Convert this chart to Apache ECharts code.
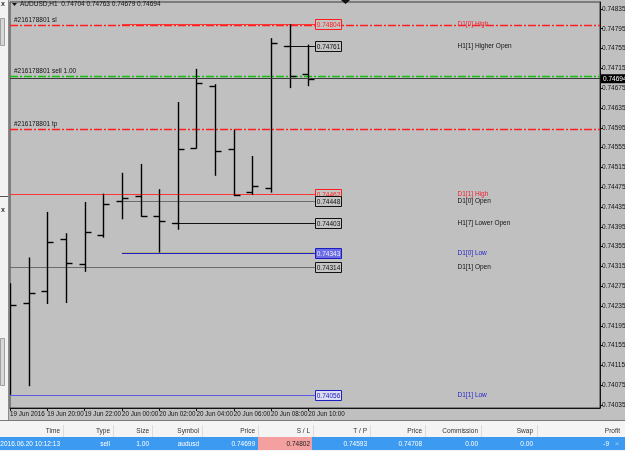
<!DOCTYPE html>
<html>
<head>
<meta charset="utf-8">
<script src="https://cdn.jsdelivr.net/npm/echarts@6/dist/echarts.min.js"></script>
<style>
  html, body { margin: 0; padding: 0; background: #c0c0c0; }
  #chart { width: 625px; height: 451px; }
</style>
</head>
<body>
<div id="chart"></div>
<script>
// AUDUSD H1 bars
const barTimes = [
  '19 Jun 18:00', '19 Jun 19:00', '19 Jun 20:00', '19 Jun 21:00', '19 Jun 22:00', '19 Jun 23:00',
  '20 Jun 00:00', '20 Jun 01:00', '20 Jun 02:00', '20 Jun 03:00', '20 Jun 04:00', '20 Jun 05:00',
  '20 Jun 06:00', '20 Jun 07:00', '20 Jun 08:00', '20 Jun 09:00', '20 Jun 10:00'
];
const opens  = [0.74255, 0.74241, 0.74265, 0.74370, 0.74320, 0.74378, 0.74448, 0.74457, 0.74416, 0.74403, 0.74555, 0.74679, 0.74552, 0.74465, 0.74474, 0.74761, 0.74704];
const highs  = [0.74281, 0.74333, 0.74425, 0.74382, 0.74445, 0.74462, 0.74504, 0.74522, 0.74471, 0.74647, 0.74714, 0.74683, 0.74591, 0.74538, 0.74776, 0.74804, 0.74763];
const lows   = [0.74056, 0.74073, 0.74239, 0.74241, 0.74304, 0.74373, 0.74410, 0.74415, 0.74343, 0.74389, 0.74553, 0.74498, 0.74457, 0.74459, 0.74464, 0.74675, 0.74679];
const closes = [0.74237, 0.74262, 0.74364, 0.74322, 0.74385, 0.74442, 0.74453, 0.74416, 0.74407, 0.74552, 0.74685, 0.74548, 0.74460, 0.74477, 0.74766, 0.74699, 0.74694];

const yTicks = ['0.74035', '0.74075', '0.74115', '0.74155', '0.74195', '0.74235', '0.74275', '0.74315', '0.74355',
  '0.74395', '0.74435', '0.74475', '0.74515', '0.74555', '0.74595', '0.74635', '0.74675', '0.74715', '0.74755', '0.74795', '0.74835'];
const xTickIdx = [0, 2, 4, 6, 8, 10, 12, 14, 16];

// indicator levels
const levelNames  = ['D1[0] High', 'H1[1] Higher Open', 'D1[1] High', 'D1[0] Open', 'H1[7] Lower Open', 'D1[0] Low', 'D1[1] Open', 'D1[1] Low'];
const levelPrices = [0.74804, 0.74761, 0.74462, 0.74448, 0.74403, 0.74343, 0.74314, 0.74056];
const levelStart  = [6, 15, 0, 6, 9, 6, 0, 0];

// open order
const orderNames  = ['#216178801 sl', '#216178801 sell 1.00', '#216178801 tp'];
const orderPrices = [0.74802, 0.74699, 0.74593];
const bidPrice = 0.74694;

const tableHeaders = ['Time', 'Type', 'Size', 'Symbol', 'Price', 'S / L', 'T / P', 'Price', 'Commission', 'Swap', 'Profit'];
const tableRow = ['2016.06.20 10:12:13', 'sell', '1.00', 'audusd', '0.74699', '0.74802', '0.74593', '0.74708', '0.00', '0.00', '-9'];

const FONT = 'Liberation Sans';
const yMin = 0.74029, yMax = 0.74849;
const xMax = 31.64;
const boxIdx = 16.35, textIdx = 24;

const levelStyle = (name) => {
  const kind = name.split(' ').pop();
  const tf = name.slice(0, 5);
  if (kind === 'High') return { line: '#ff3434', box: '#c4c4c4', boxStroke: '#ff1c1c', boxText: '#ff1c1c', text: '#f02030' };
  if (kind === 'Low' && tf === 'D1[0]') return { line: '#1c1cd0', box: '#6c6ce4', boxStroke: '#1c1cc0', boxText: '#eeeeff', text: '#2525c8', extra: '#b8b870' };
  if (kind === 'Low') return { line: '#5a5ae0', box: '#dcdcf2', boxStroke: '#2020c0', boxText: '#2020c0', text: '#2525c8' };
  if (name.indexOf('D1') === 0) return { line: '#6c6c6c', box: '#c4c4c4', boxStroke: '#111', boxText: '#111', text: '#111' };
  return { line: '#111', box: '#c4c4c4', boxStroke: '#111', boxText: '#111', text: '#111' };
};
const orderColor = name => (name.indexOf('sell') >= 0 ? '#10c010' : '#ff2020');

const chart = echarts.init(document.getElementById('chart'));

const barData = barTimes.map((t, i) => [i, opens[i], highs[i], lows[i], closes[i]]);
const levelData = levelPrices.map((p, i) => [levelStart[i], p, i]);
const orderData = orderPrices.map((p, i) => [0, p, i]);
const last = barData.length - 1;

const crisp = v => Math.round(v) + 0.5;

const colX = [60, 110, 149, 199, 255, 310, 367, 422, 478, 533, 620];
const graphics = [];
// left side panel
graphics.push({ type: 'rect', left: 0, top: 0, shape: { width: 8, height: 420 }, style: { fill: '#f2f2f2' }, z: 10 });
graphics.push({ type: 'line', shape: { x1: 8.5, y1: 0, x2: 8.5, y2: 420 }, style: { stroke: '#8a8a8a' }, z: 10 });
graphics.push({ type: 'text', left: 1, top: 1, style: { text: 'x', font: 'bold 7px ' + FONT, fill: '#333' }, z: 11 });
graphics.push({ type: 'rect', left: 0, top: 18, shape: { width: 4, height: 27 }, style: { fill: '#d8d8d8', stroke: '#a0a0a0' }, z: 11 });
graphics.push({ type: 'rect', left: 0, top: 338, shape: { width: 4, height: 47 }, style: { fill: '#d8d8d8', stroke: '#a0a0a0' }, z: 11 });
graphics.push({ type: 'line', shape: { x1: 0, y1: 196.5, x2: 8, y2: 196.5 }, style: { stroke: '#555' }, z: 11 });
graphics.push({ type: 'text', left: 1, top: 207, style: { text: 'x', font: 'bold 7px ' + FONT, fill: '#333' }, z: 11 });
// title
graphics.push({ type: 'polygon', shape: { points: [[12, 3], [17, 3], [14.5, 6]] }, style: { fill: '#111' }, z: 11 });
graphics.push({ type: 'text', left: 20, top: 1, style: {
  text: 'AUDUSD,H1  ' + [opens[last], highs[last], lows[last], closes[last]].map(v => v.toFixed(5)).join(' '),
  font: '6.5px ' + FONT, fill: '#111' }, z: 11 });
// chart shift marker
graphics.push({ type: 'polygon', shape: { points: [[341, 0], [350, 0], [345.5, 4]] }, style: { fill: '#111' }, z: 11 });
// terminal table
graphics.push({ type: 'rect', left: 0, top: 420, shape: { width: 625, height: 31 }, style: { fill: '#f4f4f4' }, z: 10 });
graphics.push({ type: 'line', shape: { x1: 0, y1: 420.5, x2: 625, y2: 420.5 }, style: { stroke: '#7a7a7a' }, z: 11 });
graphics.push({ type: 'rect', left: 0, top: 437, shape: { width: 625, height: 13 }, style: { fill: '#3c9af0' }, z: 11 });
graphics.push({ type: 'rect', left: 258, top: 437, shape: { width: 54, height: 13 }, style: { fill: '#f5a0a0' }, z: 12 });
[63, 113, 152, 202, 258, 313, 370, 425, 481, 537].forEach(x => {
  graphics.push({ type: 'line', shape: { x1: x + 0.5, y1: 425, x2: x + 0.5, y2: 437 }, style: { stroke: '#dcdcdc' }, z: 11 });
});
tableHeaders.forEach((h, i) => {
  graphics.push({ type: 'text', x: colX[i], y: 431, style: { text: h, font: '6.5px ' + FONT, fill: '#333', align: 'right', verticalAlign: 'middle' }, z: 13 });
});
tableRow.forEach((v, i) => {
  const xr = i === tableRow.length - 1 ? 609 : colX[i];
  graphics.push({ type: 'text', x: xr, y: 444, style: { text: v, font: '6.5px ' + FONT, fill: i === 5 ? '#222' : '#fff', align: 'right', verticalAlign: 'middle' }, z: 13 });
});
graphics.push({ type: 'text', x: 617, y: 444, style: { text: '×', font: '8px ' + FONT, fill: '#9ec8f4', align: 'center', verticalAlign: 'middle' }, z: 13 });

const option = {
  animation: false,
  backgroundColor: '#c0c0c0',
  grid: {
    left: 10, right: 25, top: 2, bottom: 43,
    containLabel: false, outerBoundsMode: 'none',
    show: true, borderColor: '#3a3a3a', borderWidth: 1, backgroundColor: '#c0c0c0'
  },
  xAxis: {
    type: 'value', min: 0, max: xMax,
    splitLine: { show: false },
    axisLine: { show: true, onZero: false, lineStyle: { color: '#111' } },
    axisTick: { show: true, length: 3, customValues: xTickIdx, lineStyle: { color: '#111' } },
    axisLabel: {
      customValues: xTickIdx, align: 'left', margin: 3,
      showMinLabel: true, showMaxLabel: true, hideOverlap: false,
      fontFamily: FONT, fontSize: 6.3, color: '#111',
      formatter: v => (v === 0 ? '19 Jun 2016' : barTimes[v])
    }
  },
  yAxis: {
    type: 'value', position: 'right', min: yMin, max: yMax,
    splitLine: { show: false },
    axisLine: { show: true, onZero: false, lineStyle: { color: '#111' } },
    axisTick: { show: true, length: 3, customValues: yTicks.map(Number), lineStyle: { color: '#111' } },
    axisLabel: {
      customValues: yTicks.map(Number), margin: 2,
      showMinLabel: true, showMaxLabel: true, hideOverlap: false,
      fontFamily: FONT, fontSize: 6.5, color: '#111',
      formatter: v => v.toFixed(5)
    }
  },
  graphic: graphics,
  series: [
    {
      name: 'orders',
      type: 'custom',
      clip: true,
      z: 1,
      data: orderData,
      encode: { x: 0, y: 1 },
      renderItem: (params, api) => {
        const name = orderNames[api.value(2)];
        const p0 = api.coord([0, api.value(1)]);
        const p1 = api.coord([xMax, api.value(1)]);
        const y = crisp(p0[1]);
        return {
          type: 'group',
          children: [
            { type: 'line', shape: { x1: p0[0], y1: y, x2: p1[0], y2: y },
              style: { stroke: orderColor(name), lineWidth: 1.3, lineDash: [8, 2, 2, 2], opacity: 1 } },
            { type: 'text', style: { text: name, x: p0[0] + 4, y: y - 2, align: 'left', verticalAlign: 'bottom', fill: '#111', font: '6.5px ' + FONT } }
          ]
        };
      }
    },
    {
      name: 'levels',
      type: 'custom',
      clip: false,
      z: 2,
      data: levelData,
      encode: { x: 0, y: 1 },
      renderItem: (params, api) => {
        const i = api.value(2);
        const name = levelNames[i];
        const st = levelStyle(name);
        const p0 = api.coord([api.value(0), api.value(1)]);
        const pb = api.coord([boxIdx, api.value(1)]);
        const pt = api.coord([textIdx, api.value(1)]);
        const y = crisp(p0[1]);
        const off = name.indexOf('H1') === 0 ? 6 : 0;
        const kids = [
          { type: 'line', shape: { x1: p0[0] - off, y1: y, x2: pb[0], y2: y }, style: { stroke: st.line, lineWidth: 1 } },
          { type: 'rect', shape: { x: Math.round(pb[0]) + 0.5, y: y - 5, width: 26, height: 10 }, style: { fill: st.box, stroke: st.boxStroke, lineWidth: 1 } },
          { type: 'text', style: { text: api.value(1).toFixed(5), x: Math.round(pb[0]) + 13.5, y: y + 0.5, align: 'center', verticalAlign: 'middle', fill: st.boxText, font: '6.5px ' + FONT } },
          { type: 'text', style: { text: name, x: pt[0], y: y - 0.5, align: 'left', verticalAlign: 'middle', fill: st.text, font: '6.5px ' + FONT } }
        ];
        if (st.extra) {
          kids.unshift({ type: 'line', shape: { x1: p0[0], y1: y - 1, x2: pb[0], y2: y - 1 }, style: { stroke: st.extra, lineWidth: 1 } });
        }
        return { type: 'group', children: kids };
      }
    },
    {
      name: 'AUDUSD,H1',
      type: 'custom',
      clip: true,
      z: 3,
      data: barData,
      encode: { x: 0, y: [1, 2, 3, 4] },
      renderItem: (params, api) => {
        const x = crisp(api.coord([api.value(0), 0])[0]);
        const yO = crisp(api.coord([0, api.value(1)])[1]);
        const yH = api.coord([0, api.value(2)])[1];
        const yL = api.coord([0, api.value(3)])[1];
        const yC = crisp(api.coord([0, api.value(4)])[1]);
        const s = { stroke: '#000', lineWidth: 1.4 };
        return {
          type: 'group',
          children: [
            { type: 'line', shape: { x1: x, y1: yH, x2: x, y2: yL }, style: s },
            { type: 'line', shape: { x1: x - 6, y1: yO, x2: x, y2: yO }, style: s },
            { type: 'line', shape: { x1: x, y1: yC, x2: x + 6, y2: yC }, style: s }
          ]
        };
      },
      markLine: {
        silent: true,
        symbol: 'none',
        precision: 5,
        data: [
          {
            yAxis: bidPrice, name: 'bid',
            lineStyle: { color: '#3a3a3a', type: 'solid', width: 1, opacity: 1 },
            label: {
              position: 'end', formatter: p => p.value.toFixed(5), color: '#fff', backgroundColor: '#000',
              fontFamily: FONT, fontSize: 6.5, padding: [1, 3, 1, 2], distance: 1
            }
          }
        ]
      }
    }
  ]
};

chart.setOption(option);
</script>
</body>
</html>
